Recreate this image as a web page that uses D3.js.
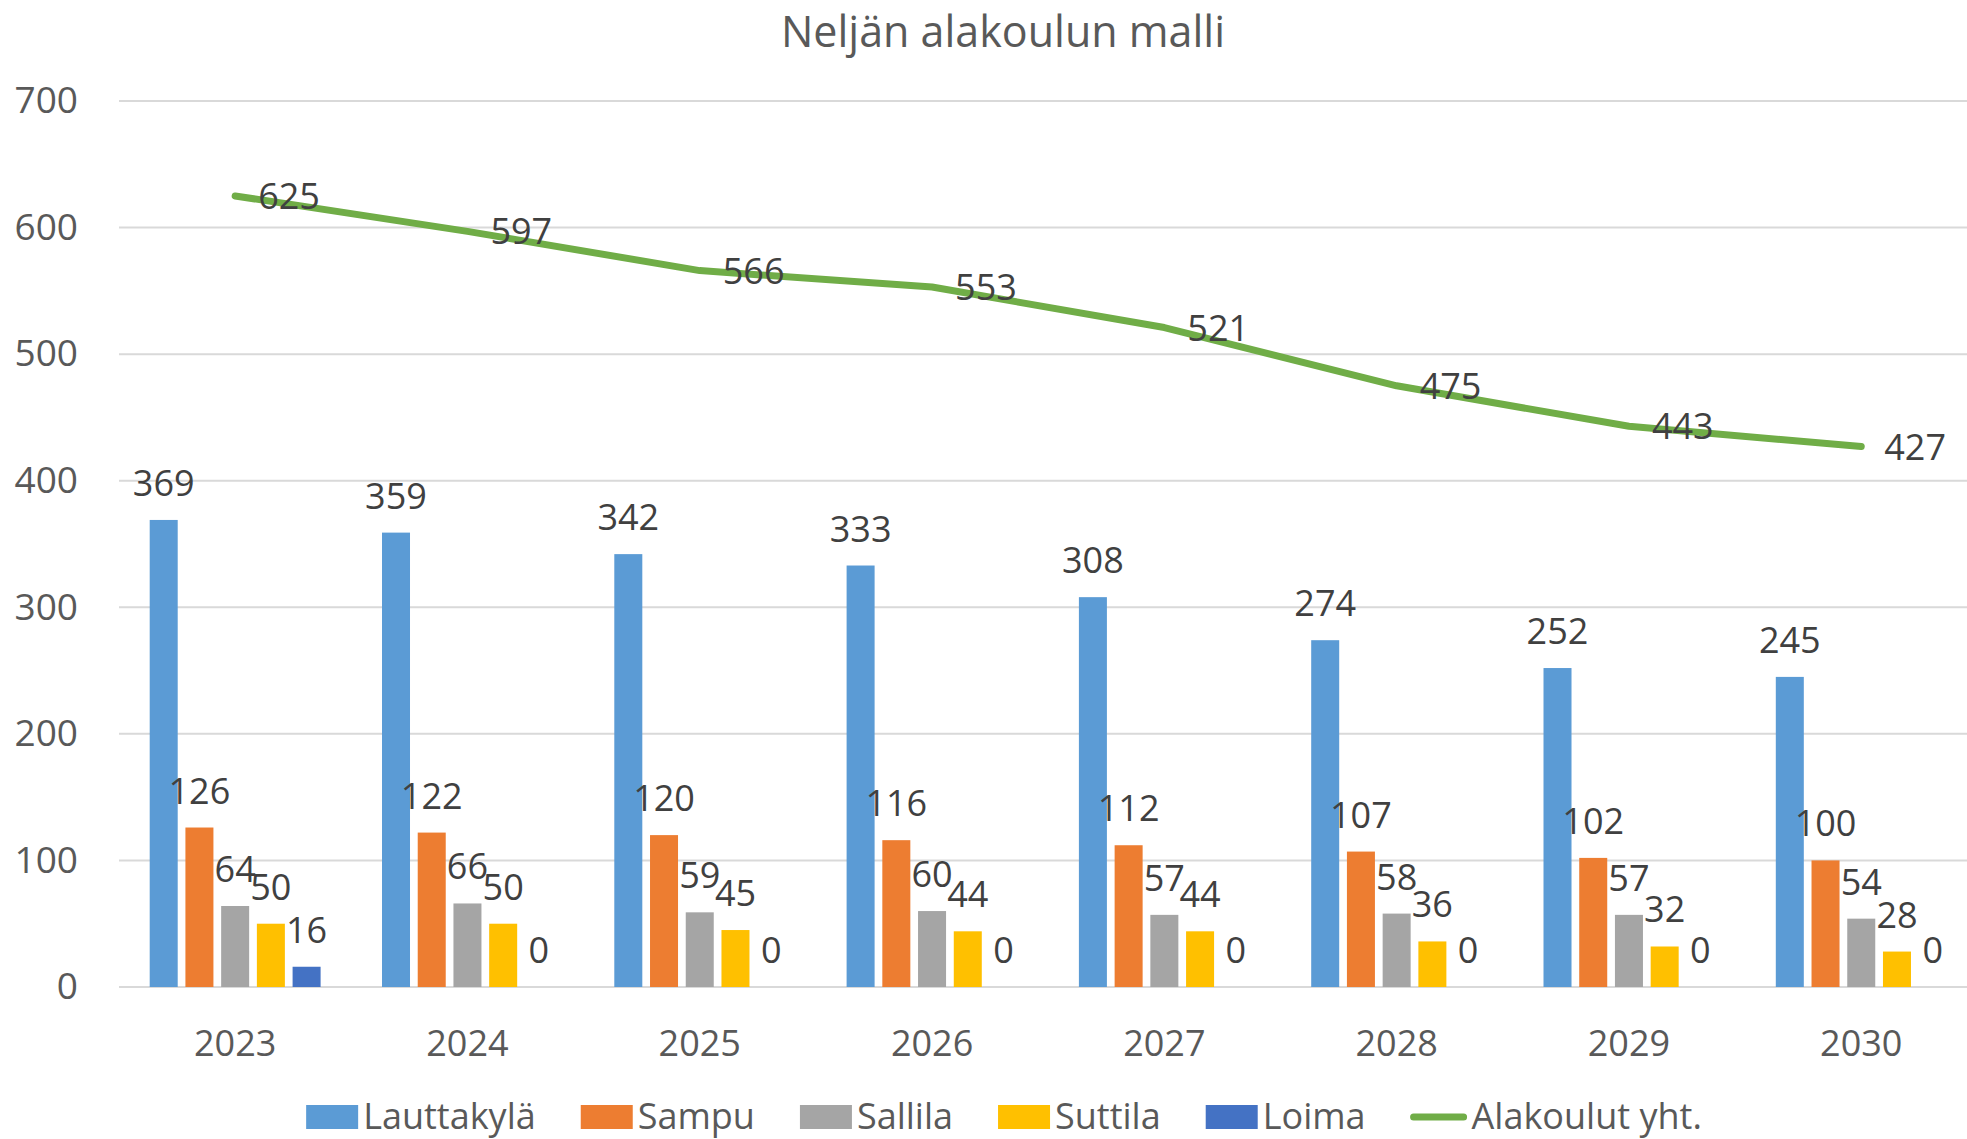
<!DOCTYPE html>
<html lang="fi">
    <head>
        <meta charset="utf-8" />
        <title>Neljän alakoulun malli</title>
        <script src="https://d3js.org/d3.v7.min.js"></script>
        <style>
            body { margin: 0; background: #ffffff; }
            text { font-family: "Open Sans", "Noto Sans", sans-serif; }
        </style>
    </head>
    <body>
        <div id="chart"></div>
        <script>
            // data
            var years = ["2023", "2024", "2025", "2026", "2027", "2028", "2029", "2030"];
            var seriesNames = ["Lauttakylä", "Sampu", "Sallila", "Suttila", "Loima"];
            var lauttakyla = [369, 359, 342, 333, 308, 274, 252, 245];
            var sampu = [126, 122, 120, 116, 112, 107, 102, 100];
            var sallila = [64, 66, 59, 60, 57, 58, 57, 54];
            var suttila = [50, 50, 45, 44, 44, 36, 32, 28];
            var loima = [16, 0, 0, 0, 0, 0, 0, 0];
            var lineName = "Alakoulut yht.";
            var total = [625, 597, 566, 553, 521, 475, 443, 427];
            var yTicks = [0, 100, 200, 300, 400, 500, 600, 700];

            var barValues = [lauttakyla, sampu, sallila, suttila, loima];
            var colors = ["#5B9BD5", "#ED7D31", "#A5A5A5", "#FFC000", "#4472C4"];
            var lineColor = "#70AD47";

            var width = 1967,
                height = 1139;

            var svg = d3
                .select("#chart")
                .append("svg")
                .attr("width", width)
                .attr("height", height);

            // scales
            var x0 = d3.scaleBand().domain(years).range([119, 1977.4]).padding(0);
            var x1 = d3.scaleBand().domain(seriesNames).range([0, 170.9]).paddingInner(0.216).paddingOuter(0);
            var groupOffset = x0.bandwidth() / 2 - 85.45;
            var y = d3.scaleLinear().domain([0, 700]).range([987, 101]);

            // title
            svg.append("text")
                .attr("x", 1003)
                .attr("y", 47)
                .attr("text-anchor", "middle")
                .attr("fill", "#595959")
                .style("font-size", "43px")
                .text("Neljän alakoulun malli");

            // gridlines
            svg.append("g")
                .selectAll("line")
                .data(yTicks)
                .enter()
                .append("line")
                .attr("x1", 119)
                .attr("x2", width)
                .attr("y1", function (d) { return y(d); })
                .attr("y2", function (d) { return y(d); })
                .attr("stroke", "#D9D9D9")
                .attr("stroke-width", 2);

            // y axis labels
            var yAxis = d3.axisLeft(y).tickValues(yTicks).tickSize(0).tickPadding(0);
            var gy = svg.append("g").attr("transform", "translate(78,0)").call(yAxis);
            gy.select(".domain").remove();
            gy.selectAll("text")
                .attr("fill", "#595959")
                .style("font-size", "37px")
                .style("font-family", "'Open Sans', sans-serif");

            // x axis labels
            var xAxis = d3.axisBottom(x0).tickSize(0).tickPadding(0);
            var gx = svg.append("g").attr("transform", "translate(0,1056)").call(xAxis);
            gx.select(".domain").remove();
            gx.selectAll("text")
                .attr("dy", 0)
                .attr("fill", "#595959")
                .style("font-size", "36px")
                .style("font-family", "'Open Sans', sans-serif");

            // bars
            var barData = [];
            seriesNames.forEach(function (s, si) {
                years.forEach(function (yr, i) {
                    barData.push({ series: s, si: si, year: yr, value: barValues[si][i] });
                });
            });

            svg.append("g")
                .selectAll("rect")
                .data(barData)
                .enter()
                .append("rect")
                .attr("x", function (d) { return x0(d.year) + groupOffset + x1(d.series); })
                .attr("y", function (d) { return y(d.value); })
                .attr("width", x1.bandwidth())
                .attr("height", function (d) { return y(0) - y(d.value); })
                .attr("fill", function (d) { return colors[d.si]; });

            // total line
            var line = d3
                .line()
                .x(function (d, i) { return x0(years[i]) + x0.bandwidth() / 2; })
                .y(function (d) { return y(d); });

            svg.append("path")
                .datum(total)
                .attr("d", line)
                .attr("fill", "none")
                .attr("stroke", lineColor)
                .attr("stroke-width", 7)
                .attr("stroke-linecap", "round")
                .attr("stroke-linejoin", "round");

            // bar labels
            svg.append("g")
                .selectAll("text")
                .data(barData)
                .enter()
                .append("text")
                .attr("x", function (d) { return x0(d.year) + groupOffset + x1(d.series) + x1.bandwidth() / 2; })
                .attr("y", function (d) { return y(d.value) - 24; })
                .attr("text-anchor", "middle")
                .attr("fill", "#404040")
                .style("font-size", "36px")
                .text(function (d) { return d.value; });

            // line labels, right of the points
            svg.append("g")
                .selectAll("text")
                .data(total)
                .enter()
                .append("text")
                .attr("x", function (d, i) { return x0(years[i]) + x0.bandwidth() / 2 + 23; })
                .attr("y", function (d) { return y(d); })
                .attr("dy", "0.36em")
                .attr("fill", "#404040")
                .style("font-size", "36px")
                .text(function (d) { return d; });

            // legend
            var legendItems = seriesNames.map(function (s, i) {
                return { name: s, color: colors[i], kind: "rect" };
            });
            legendItems.push({ name: lineName, color: lineColor, kind: "line" });

            var legend = svg.append("g");
            var cursor = 0;
            legendItems.forEach(function (item, i) {
                var g = legend.append("g").attr("transform", "translate(" + cursor + ",0)");
                var keyW = item.kind === "rect" ? 52 : 56;
                if (item.kind === "rect") {
                    g.append("rect")
                        .attr("x", 0)
                        .attr("y", 1105)
                        .attr("width", keyW)
                        .attr("height", 24)
                        .attr("fill", item.color);
                } else {
                    g.append("line")
                        .attr("x1", 3)
                        .attr("x2", keyW - 3)
                        .attr("y1", 1117)
                        .attr("y2", 1117)
                        .attr("stroke", item.color)
                        .attr("stroke-width", 7)
                        .attr("stroke-linecap", "round");
                }
                var t = g.append("text")
                    .attr("x", keyW + 5)
                    .attr("y", 1129)
                    .attr("fill", "#595959")
                    .style("font-size", "36px")
                    .text(item.name);
                cursor += keyW + 5 + t.node().getComputedTextLength() + 45;
            });
            var legendW = cursor - 45;
            legend.attr("transform", "translate(" + (1004 - legendW / 2) + ",0)");
        </script>
    </body>
</html>
